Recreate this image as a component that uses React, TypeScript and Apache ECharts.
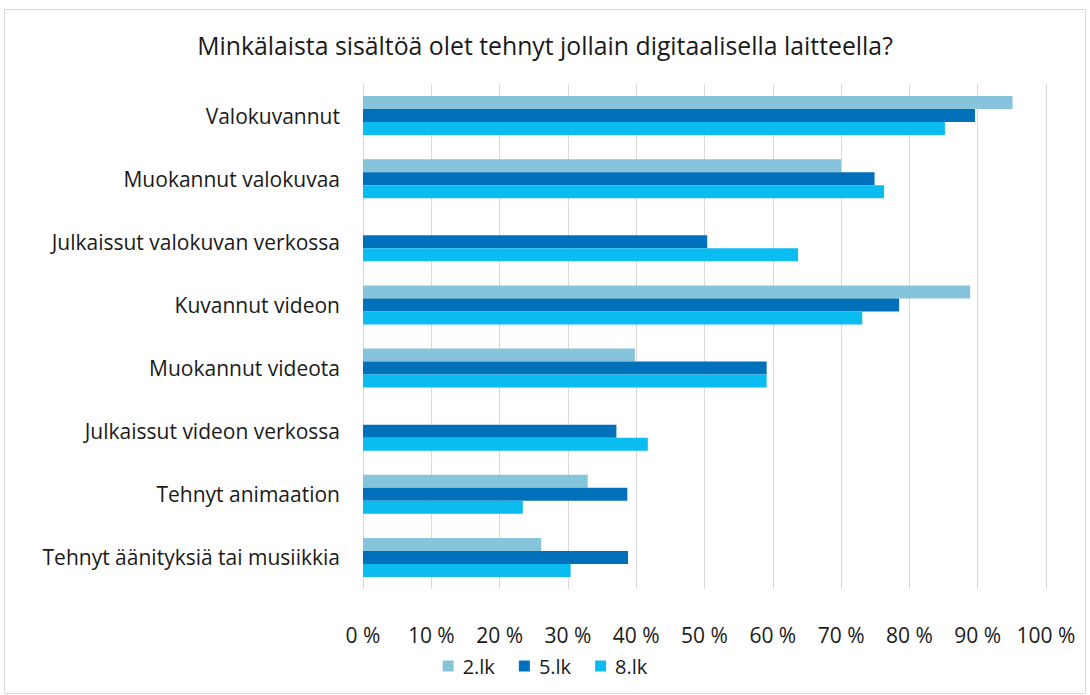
import React, { useEffect, useRef } from "react";
import * as echarts from "echarts";

const categories = [
  "Valokuvannut",
  "Muokannut valokuvaa",
  "Julkaissut valokuvan verkossa",
  "Kuvannut videon",
  "Muokannut videota",
  "Julkaissut videon verkossa",
  "Tehnyt animaation",
  "Tehnyt äänityksiä tai musiikkia",
];
const seriesNames = ["2.lk", "5.lk", "8.lk"];
const values2lk = [95.1, 70.0, null, 88.9, 39.8, null, 32.9, 26.1];
const values5lk = [89.6, 74.9, 50.4, 78.5, 59.1, 37.1, 38.7, 38.8];
const values8lk = [85.2, 76.3, 63.7, 73.1, 59.1, 41.7, 23.4, 30.4];
const colors = ["#85C4DB", "#0070BA", "#0ABCF0"];
const title = "Minkälaista sisältöä olet tehnyt jollain digitaalisella laitteella?";

const FONT = "'Open Sans', sans-serif";

export default function App() {
  const ref = useRef<HTMLDivElement>(null);
  useEffect(() => {
    if (!ref.current) return;
    const chart = echarts.init(ref.current, undefined, { renderer: "svg" });
    const data = [values2lk, values5lk, values8lk];
    chart.setOption({
      animation: false,
      backgroundColor: "#ffffff",
      textStyle: { fontFamily: FONT },
      title: {
        text: title,
        left: "center",
        top: 27,
        textStyle: { fontFamily: FONT, fontSize: 24.8, fontWeight: "normal", color: "#1a1a1a" },
      },
      graphic: [
        {
          type: "rect",
          shape: { x: 4.5, y: 9.5, width: 1081, height: 684 },
          style: { fill: "none", stroke: "#d9d9d9", lineWidth: 1 },
          silent: true,
        },
      ],
      legend: {
        data: seriesNames,
        bottom: 14,
        left: "center",
        itemWidth: 11,
        itemHeight: 11,
        itemGap: 24,
        icon: "rect",
        textStyle: { fontFamily: FONT, fontSize: 20, color: "#1a1a1a", padding: [0, 0, 0, 4] },
      },
      grid: { left: 363, right: 44, top: 84, bottom: 106, containLabel: false },
      xAxis: {
        type: "value",
        min: 0,
        max: 100,
        interval: 10,
        axisLine: { show: false },
        axisTick: { show: false },
        splitLine: { show: true, lineStyle: { color: "#d9d9d9", width: 1 } },
        axisLabel: {
          formatter: "{value} %",
          margin: 35,
          fontFamily: FONT,
          fontSize: 21,
          color: "#1a1a1a",
        },
      },
      yAxis: {
        type: "category",
        data: categories,
        inverse: true,
        axisLine: { show: false },
        axisTick: { show: false },
        axisLabel: { margin: 23, fontFamily: FONT, fontSize: 21, color: "#1a1a1a" },
      },
      series: seriesNames.map((name, i) => ({
        name,
        type: "bar",
        data: data[i],
        barWidth: 13,
        barGap: "0%",
        itemStyle: { color: colors[i] },
      })),
    });
    return () => chart.dispose();
  }, []);
  return (
    <div
      ref={ref}
      style={{ position: "absolute", left: 0, top: 0, width: 1090, height: 695 }}
    />
  );
}
